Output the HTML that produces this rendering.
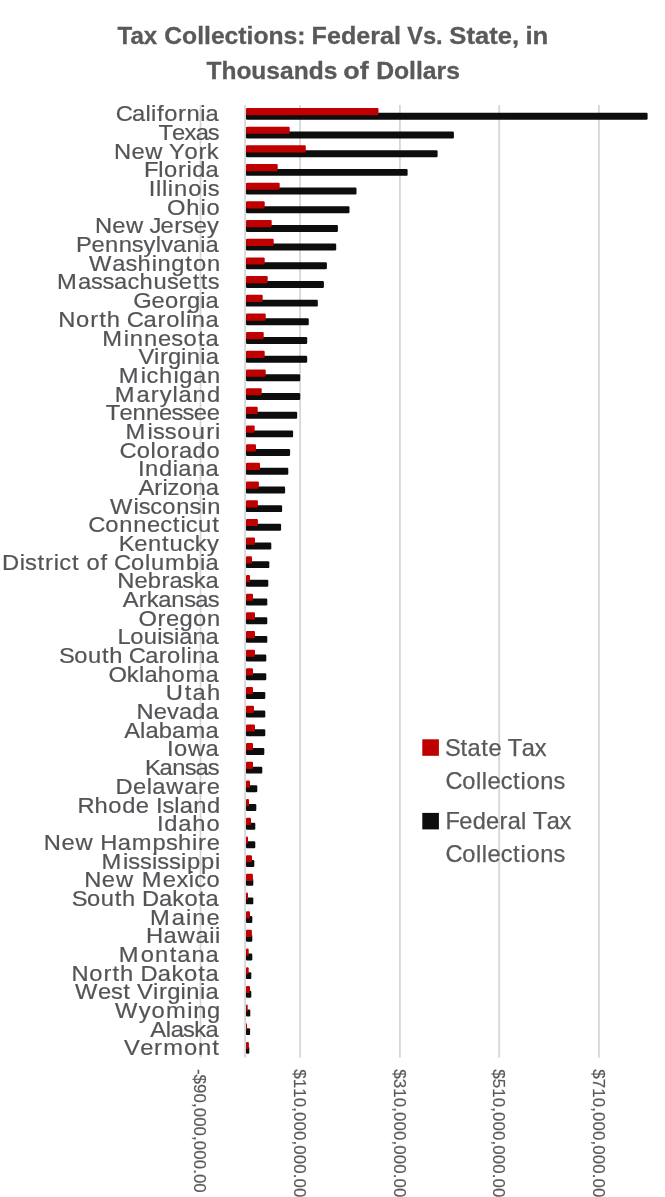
<!DOCTYPE html>
<html lang="en"><head><meta charset="utf-8"><title>Tax Collections: Federal Vs. State</title>
<style>html,body{margin:0;padding:0;background:#fff}body{width:665px;height:1197px;overflow:hidden;position:relative}</style></head>
<body>
<svg width="665" height="1197" viewBox="0 0 665 1197" style="display:block;position:absolute;left:0;top:0">
<rect width="665" height="1197" fill="#fff"/>
<rect x="199.60" y="105.0" width="1.8" height="952.6" fill="#d6d6d6"/>
<rect x="299.20" y="105.0" width="1.8" height="952.6" fill="#d6d6d6"/>
<rect x="399.00" y="105.0" width="1.8" height="952.6" fill="#d6d6d6"/>
<rect x="498.30" y="105.0" width="1.8" height="952.6" fill="#d6d6d6"/>
<rect x="598.00" y="105.0" width="1.8" height="952.6" fill="#d6d6d6"/>
<rect x="244.2" y="105.0" width="1.8" height="952.6" fill="#d5d8da"/>
<g>
<rect x="246.0" y="112.85" width="401.6" height="6.95" rx="1.2" fill="#0d0d0d"/>
<rect x="246.0" y="107.95" width="132.5" height="7.2" rx="1.1" fill="#c00000"/>
<rect x="246.0" y="131.53" width="207.9" height="6.95" rx="1.2" fill="#0d0d0d"/>
<rect x="246.0" y="126.63" width="43.7" height="7.2" rx="1.1" fill="#c00000"/>
<rect x="246.0" y="150.21" width="191.6" height="6.95" rx="1.2" fill="#0d0d0d"/>
<rect x="246.0" y="145.31" width="59.8" height="7.2" rx="1.1" fill="#c00000"/>
<rect x="246.0" y="168.89" width="161.6" height="6.95" rx="1.2" fill="#0d0d0d"/>
<rect x="246.0" y="163.99" width="31.7" height="7.2" rx="1.1" fill="#c00000"/>
<rect x="246.0" y="187.57" width="110.5" height="6.95" rx="1.2" fill="#0d0d0d"/>
<rect x="246.0" y="182.67" width="33.7" height="7.2" rx="1.1" fill="#c00000"/>
<rect x="246.0" y="206.25" width="103.5" height="6.95" rx="1.2" fill="#0d0d0d"/>
<rect x="246.0" y="201.35" width="18.7" height="7.2" rx="1.1" fill="#c00000"/>
<rect x="246.0" y="224.93" width="91.9" height="6.95" rx="1.2" fill="#0d0d0d"/>
<rect x="246.0" y="220.03" width="25.7" height="7.2" rx="1.1" fill="#c00000"/>
<rect x="246.0" y="243.61" width="90.2" height="6.95" rx="1.2" fill="#0d0d0d"/>
<rect x="246.0" y="238.71" width="27.7" height="7.2" rx="1.1" fill="#c00000"/>
<rect x="246.0" y="262.29" width="80.9" height="6.95" rx="1.2" fill="#0d0d0d"/>
<rect x="246.0" y="257.39" width="18.7" height="7.2" rx="1.1" fill="#c00000"/>
<rect x="246.0" y="280.97" width="77.9" height="6.95" rx="1.2" fill="#0d0d0d"/>
<rect x="246.0" y="276.07" width="21.7" height="7.2" rx="1.1" fill="#c00000"/>
<rect x="246.0" y="299.65" width="71.8" height="6.95" rx="1.2" fill="#0d0d0d"/>
<rect x="246.0" y="294.75" width="16.7" height="7.2" rx="1.1" fill="#c00000"/>
<rect x="246.0" y="318.33" width="62.8" height="6.95" rx="1.2" fill="#0d0d0d"/>
<rect x="246.0" y="313.43" width="19.7" height="7.2" rx="1.1" fill="#c00000"/>
<rect x="246.0" y="337.01" width="61.2" height="6.95" rx="1.2" fill="#0d0d0d"/>
<rect x="246.0" y="332.11" width="17.7" height="7.2" rx="1.1" fill="#c00000"/>
<rect x="246.0" y="355.69" width="61.2" height="6.95" rx="1.2" fill="#0d0d0d"/>
<rect x="246.0" y="350.79" width="18.7" height="7.2" rx="1.1" fill="#c00000"/>
<rect x="246.0" y="374.37" width="54.2" height="6.95" rx="1.2" fill="#0d0d0d"/>
<rect x="246.0" y="369.47" width="19.7" height="7.2" rx="1.1" fill="#c00000"/>
<rect x="246.0" y="393.05" width="54.2" height="6.95" rx="1.2" fill="#0d0d0d"/>
<rect x="246.0" y="388.15" width="15.7" height="7.2" rx="1.1" fill="#c00000"/>
<rect x="246.0" y="411.73" width="51.2" height="6.95" rx="1.2" fill="#0d0d0d"/>
<rect x="246.0" y="406.83" width="11.7" height="7.2" rx="1.1" fill="#c00000"/>
<rect x="246.0" y="430.41" width="47.1" height="6.95" rx="1.2" fill="#0d0d0d"/>
<rect x="246.0" y="425.51" width="8.7" height="7.2" rx="1.1" fill="#c00000"/>
<rect x="246.0" y="449.09" width="44.1" height="6.95" rx="1.2" fill="#0d0d0d"/>
<rect x="246.0" y="444.19" width="10.0" height="7.2" rx="1.1" fill="#c00000"/>
<rect x="246.0" y="467.77" width="42.3" height="6.95" rx="1.2" fill="#0d0d0d"/>
<rect x="246.0" y="462.87" width="14.0" height="7.2" rx="1.1" fill="#c00000"/>
<rect x="246.0" y="486.45" width="39.1" height="6.95" rx="1.2" fill="#0d0d0d"/>
<rect x="246.0" y="481.55" width="12.9" height="7.2" rx="1.1" fill="#c00000"/>
<rect x="246.0" y="505.13" width="36.1" height="6.95" rx="1.2" fill="#0d0d0d"/>
<rect x="246.0" y="500.23" width="11.9" height="7.2" rx="1.1" fill="#c00000"/>
<rect x="246.0" y="523.81" width="35.1" height="6.95" rx="1.2" fill="#0d0d0d"/>
<rect x="246.0" y="518.91" width="11.9" height="7.2" rx="1.1" fill="#c00000"/>
<rect x="246.0" y="542.49" width="25.3" height="6.95" rx="1.2" fill="#0d0d0d"/>
<rect x="246.0" y="537.59" width="9.0" height="7.2" rx="1.1" fill="#c00000"/>
<rect x="246.0" y="561.17" width="23.3" height="6.95" rx="1.2" fill="#0d0d0d"/>
<rect x="246.0" y="556.27" width="6.0" height="7.2" rx="1.1" fill="#c00000"/>
<rect x="246.0" y="579.85" width="22.3" height="6.95" rx="1.2" fill="#0d0d0d"/>
<rect x="246.0" y="574.95" width="4.0" height="7.2" rx="1.1" fill="#c00000"/>
<rect x="246.0" y="598.53" width="21.3" height="6.95" rx="1.2" fill="#0d0d0d"/>
<rect x="246.0" y="593.63" width="7.0" height="7.2" rx="1.1" fill="#c00000"/>
<rect x="246.0" y="617.21" width="21.3" height="6.95" rx="1.2" fill="#0d0d0d"/>
<rect x="246.0" y="612.31" width="9.0" height="7.2" rx="1.1" fill="#c00000"/>
<rect x="246.0" y="635.89" width="21.3" height="6.95" rx="1.2" fill="#0d0d0d"/>
<rect x="246.0" y="630.99" width="9.0" height="7.2" rx="1.1" fill="#c00000"/>
<rect x="246.0" y="654.57" width="20.3" height="6.95" rx="1.2" fill="#0d0d0d"/>
<rect x="246.0" y="649.67" width="9.0" height="7.2" rx="1.1" fill="#c00000"/>
<rect x="246.0" y="673.25" width="20.3" height="6.95" rx="1.2" fill="#0d0d0d"/>
<rect x="246.0" y="668.35" width="7.0" height="7.2" rx="1.1" fill="#c00000"/>
<rect x="246.0" y="691.93" width="19.3" height="6.95" rx="1.2" fill="#0d0d0d"/>
<rect x="246.0" y="687.03" width="7.0" height="7.2" rx="1.1" fill="#c00000"/>
<rect x="246.0" y="710.61" width="19.3" height="6.95" rx="1.2" fill="#0d0d0d"/>
<rect x="246.0" y="705.71" width="8.0" height="7.2" rx="1.1" fill="#c00000"/>
<rect x="246.0" y="729.29" width="19.3" height="6.95" rx="1.2" fill="#0d0d0d"/>
<rect x="246.0" y="724.39" width="9.0" height="7.2" rx="1.1" fill="#c00000"/>
<rect x="246.0" y="747.97" width="18.3" height="6.95" rx="1.2" fill="#0d0d0d"/>
<rect x="246.0" y="743.07" width="7.0" height="7.2" rx="1.1" fill="#c00000"/>
<rect x="246.0" y="766.65" width="16.3" height="6.95" rx="1.2" fill="#0d0d0d"/>
<rect x="246.0" y="761.75" width="7.0" height="7.2" rx="1.1" fill="#c00000"/>
<rect x="246.0" y="785.33" width="11.3" height="6.95" rx="1.2" fill="#0d0d0d"/>
<rect x="246.0" y="780.43" width="4.0" height="7.2" rx="1.1" fill="#c00000"/>
<rect x="246.0" y="804.01" width="10.3" height="6.95" rx="1.2" fill="#0d0d0d"/>
<rect x="246.0" y="799.11" width="3.0" height="7.2" rx="1.1" fill="#c00000"/>
<rect x="246.0" y="822.69" width="9.3" height="6.95" rx="1.2" fill="#0d0d0d"/>
<rect x="246.0" y="817.79" width="5.0" height="7.2" rx="1.1" fill="#c00000"/>
<rect x="246.0" y="841.37" width="9.3" height="6.95" rx="1.2" fill="#0d0d0d"/>
<rect x="246.0" y="836.47" width="2.0" height="7.2" rx="1.1" fill="#c00000"/>
<rect x="246.0" y="860.05" width="8.3" height="6.95" rx="1.2" fill="#0d0d0d"/>
<rect x="246.0" y="855.15" width="6.0" height="7.2" rx="1.1" fill="#c00000"/>
<rect x="246.0" y="878.73" width="7.3" height="6.95" rx="1.2" fill="#0d0d0d"/>
<rect x="246.0" y="873.83" width="6.9" height="7.2" rx="1.1" fill="#c00000"/>
<rect x="246.0" y="897.41" width="7.3" height="6.95" rx="1.2" fill="#0d0d0d"/>
<rect x="246.0" y="892.51" width="2.0" height="7.2" rx="1.1" fill="#c00000"/>
<rect x="246.0" y="916.09" width="6.3" height="6.95" rx="1.2" fill="#0d0d0d"/>
<rect x="246.0" y="911.19" width="4.0" height="7.2" rx="1.1" fill="#c00000"/>
<rect x="246.0" y="934.77" width="6.3" height="6.95" rx="1.2" fill="#0d0d0d"/>
<rect x="246.0" y="929.87" width="5.9" height="7.2" rx="1.1" fill="#c00000"/>
<rect x="246.0" y="953.45" width="6.3" height="6.95" rx="1.2" fill="#0d0d0d"/>
<rect x="246.0" y="948.55" width="2.7" height="7.2" rx="1.1" fill="#c00000"/>
<rect x="246.0" y="972.13" width="5.3" height="6.95" rx="1.2" fill="#0d0d0d"/>
<rect x="246.0" y="967.23" width="2.7" height="7.2" rx="1.1" fill="#c00000"/>
<rect x="246.0" y="990.81" width="5.3" height="6.95" rx="1.2" fill="#0d0d0d"/>
<rect x="246.0" y="985.91" width="4.0" height="7.2" rx="1.1" fill="#c00000"/>
<rect x="246.0" y="1009.49" width="4.3" height="6.95" rx="1.2" fill="#0d0d0d"/>
<rect x="246.0" y="1004.59" width="1.7" height="7.2" rx="1.1" fill="#c00000"/>
<rect x="246.0" y="1028.17" width="4.1" height="6.95" rx="1.2" fill="#0d0d0d"/>
<rect x="246.0" y="1023.27" width="1.0" height="7.2" rx="1.1" fill="#c00000"/>
<rect x="246.0" y="1046.85" width="3.3" height="6.95" rx="1.2" fill="#0d0d0d"/>
<rect x="246.0" y="1041.95" width="2.9" height="7.2" rx="1.1" fill="#c00000"/>
</g>
<g font-family="'Liberation Sans', sans-serif" font-size="22.5" fill="#545458" stroke="#545458" stroke-width="0.2">
<text transform="translate(115.69,121.35) scale(1.055,1)" x="0.00 15.52 28.16 33.57 39.16 46.02 59.09 67.15 80.08 85.22" y="0">California</text>
<text transform="translate(158.47,140.03) scale(1.055,1)" x="0.00 12.80 24.70 35.24 46.76" y="0">Texas</text>
<text transform="translate(114.05,158.71) scale(1.055,1)" x="0.00 16.46 29.58 46.49 52.14 66.84 80.03 87.99" y="0">New York</text>
<text transform="translate(144.05,177.39) scale(1.055,1)" x="0.00 13.51 18.97 32.10 40.18 45.63 58.33" y="0">Florida</text>
<text transform="translate(148.81,196.07) scale(1.055,1)" x="0.00 6.77 12.42 18.06 23.77 37.28 50.73 55.88" y="0">Illinois</text>
<text transform="translate(166.88,214.75) scale(1.055,1)" x="0.00 18.36 31.88 37.57" y="0">Ohio</text>
<text transform="translate(95.05,233.43) scale(1.055,1)" x="0.00 16.35 29.35 46.18 51.62 62.11 75.04 82.51 93.46 106.08" y="0">New Jersey</text>
<text transform="translate(76.05,252.11) scale(1.055,1)" x="0.00 14.64 27.44 40.41 52.86 63.89 75.49 80.73 91.98 104.66 117.69 122.78" y="0">Pennsylvania</text>
<text transform="translate(88.90,270.79) scale(1.055,1)" x="0.00 22.16 34.66 46.17 59.48 65.10 78.09 91.42 98.70 112.06" y="0">Washington</text>
<text transform="translate(57.05,289.47) scale(1.055,1)" x="0.00 19.83 32.20 43.03 54.10 66.68 78.25 91.46 104.13 115.32 128.72 136.25 142.87" y="0">Massachusetts</text>
<text transform="translate(133.31,308.15) scale(1.055,1)" x="0.00 17.21 29.99 43.11 50.78 63.42 68.51" y="0">Georgia</text>
<text transform="translate(58.15,326.83) scale(1.055,1)" x="0.00 16.94 30.35 38.95 46.18 59.24 65.05 80.97 94.07 102.36 115.62 121.17 126.76 139.75" y="0">North Carolina</text>
<text transform="translate(102.25,345.51) scale(1.055,1)" x="0.00 20.35 26.05 39.50 52.78 65.50 77.12 90.88 97.94" y="0">Minnesota</text>
<text transform="translate(138.40,364.19) scale(1.055,1)" x="0.00 14.90 20.39 28.03 40.47 45.85 58.63 63.73" y="0">Virginia</text>
<text transform="translate(118.85,382.87) scale(1.055,1)" x="0.00 20.75 26.17 38.18 51.82 57.24 70.26 83.65" y="0">Michigan</text>
<text transform="translate(114.85,401.55) scale(1.055,1)" x="0.00 20.57 34.10 42.52 54.71 60.24 73.68 87.43" y="0">Maryland</text>
<text transform="translate(105.67,420.23) scale(1.055,1)" x="0.00 13.10 25.54 38.14 50.57 62.49 72.81 83.47 95.72" y="0">Tennessee</text>
<text transform="translate(125.55,438.91) scale(1.055,1)" x="0.00 20.71 25.93 37.16 48.97 62.66 76.43 84.90" y="0">Missouri</text>
<text transform="translate(119.59,457.59) scale(1.055,1)" x="0.00 16.17 29.42 34.96 48.34 56.27 69.20 82.44" y="0">Colorado</text>
<text transform="translate(138.01,476.27) scale(1.055,1)" x="0.00 6.64 19.83 33.01 38.25 51.15 64.04" y="0">Indiana</text>
<text transform="translate(138.45,494.95) scale(1.055,1)" x="0.00 14.98 22.85 27.66 38.61 51.29 63.68" y="0">Arizona</text>
<text transform="translate(110.10,513.63) scale(1.055,1)" x="0.00 22.11 27.05 38.00 49.50 62.62 75.19 86.49 91.97" y="0">Wisconsin</text>
<text transform="translate(88.29,532.31) scale(1.055,1)" x="0.00 16.13 29.34 42.53 55.55 68.23 80.15 87.30 92.50 104.08 117.61" y="0">Connecticut</text>
<text transform="translate(118.85,550.99) scale(1.055,1)" x="0.00 14.72 27.58 40.98 48.04 60.75 72.04 83.52" y="0">Kentucky</text>
<text transform="translate(2.05,569.67) scale(1.055,1)" x="0.00 16.68 21.73 33.50 40.83 49.07 54.32 66.28 73.29 79.99 93.40 100.22 106.04 122.26 135.50 141.09 154.58 174.40 187.63 192.93" y="0">District of Columbia</text>
<text transform="translate(117.25,588.35) scale(1.055,1)" x="0.00 16.24 28.92 41.93 49.60 61.64 72.57 83.73" y="0">Nebraska</text>
<text transform="translate(122.85,607.03) scale(1.055,1)" x="0.00 15.00 22.69 33.65 45.99 58.11 68.68 80.51" y="0">Arkansas</text>
<text transform="translate(138.38,625.71) scale(1.055,1)" x="0.00 18.15 26.21 38.94 51.87 65.15" y="0">Oregon</text>
<text transform="translate(117.55,644.39) scale(1.055,1)" x="0.00 12.12 24.89 37.70 42.48 53.51 58.51 70.98 83.46" y="0">Louisiana</text>
<text transform="translate(59.02,663.07) scale(1.055,1)" x="0.00 14.43 27.39 40.71 47.73 60.50 66.09 81.62 94.42 102.47 115.45 120.87 126.27 138.93" y="0">South Carolina</text>
<text transform="translate(108.38,681.75) scale(1.055,1)" x="0.00 17.48 29.05 34.19 46.88 59.87 73.03 92.15" y="0">Oklahoma</text>
<text transform="translate(165.77,700.43) scale(1.055,1)" x="0.00 18.12 25.44 39.11" y="0">Utah</text>
<text transform="translate(136.55,719.11) scale(1.055,1)" x="0.00 16.34 28.95 40.16 52.80 65.43" y="0">Nevada</text>
<text transform="translate(124.15,737.79) scale(1.055,1)" x="0.00 15.12 20.21 32.82 45.42 58.19 77.20" y="0">Alabama</text>
<text transform="translate(167.11,756.47) scale(1.055,1)" x="0.00 6.56 19.83 36.50" y="0">Iowa</text>
<text transform="translate(144.95,775.15) scale(1.055,1)" x="0.00 13.83 25.88 37.72 48.01 59.56" y="0">Kansas</text>
<text transform="translate(115.55,793.83) scale(1.055,1)" x="0.00 16.54 29.62 34.87 48.11 65.17 78.26 86.33" y="0">Delaware</text>
<text transform="translate(77.55,812.51) scale(1.055,1)" x="0.00 16.08 29.20 42.32 55.25 68.01 74.41 80.43 91.74 96.89 109.70 122.81" y="0">Rhode Island</text>
<text transform="translate(157.01,831.19) scale(1.055,1)" x="0.00 6.83 20.10 33.36 46.94" y="0">Idaho</text>
<text transform="translate(43.75,849.87) scale(1.055,1)" x="0.00 16.76 30.13 47.32 53.67 70.16 83.33 103.18 115.91 127.35 140.62 146.31 154.39" y="0">New Hampshire</text>
<text transform="translate(101.55,868.55) scale(1.055,1)" x="0.00 20.36 25.39 36.34 47.85 52.89 63.84 75.35 80.93 94.29 107.65" y="0">Mississippi</text>
<text transform="translate(84.15,887.23) scale(1.055,1)" x="0.00 16.76 30.16 47.32 54.58 74.60 87.44 99.12 104.38 116.05" y="0">New Mexico</text>
<text transform="translate(71.72,905.91) scale(1.055,1)" x="0.00 14.44 27.42 40.73 47.76 60.54 66.66 82.72 95.26 106.83 120.16 126.89" y="0">South Dakota</text>
<text transform="translate(149.95,924.59) scale(1.055,1)" x="0.00 20.70 34.15 40.02 53.68" y="0">Maine</text>
<text transform="translate(145.95,943.27) scale(1.055,1)" x="0.00 16.55 29.85 46.98 59.99 65.57" y="0">Hawaii</text>
<text transform="translate(118.85,961.95) scale(1.055,1)" x="0.00 20.71 34.38 48.31 55.48 68.84 82.19" y="0">Montana</text>
<text transform="translate(71.45,980.63) scale(1.055,1)" x="0.00 16.92 30.29 38.88 46.12 59.15 65.50 81.92 94.75 106.61 120.20 127.14" y="0">North Dakota</text>
<text transform="translate(75.00,999.31) scale(1.055,1)" x="0.00 21.79 34.14 45.72 52.61 58.83 74.01 79.61 87.40 100.08 105.57 118.60 123.79" y="0">West Virginia</text>
<text transform="translate(115.10,1017.99) scale(1.055,1)" x="0.00 22.52 34.56 48.29 68.37 74.06 87.20" y="0">Wyoming</text>
<text transform="translate(150.15,1036.67) scale(1.055,1)" x="0.00 14.69 19.53 31.19 41.78 52.58" y="0">Alaska</text>
<text transform="translate(124.10,1055.35) scale(1.055,1)" x="0.00 15.29 28.47 37.02 56.82 70.12 83.68" y="0">Vermont</text>
</g>
<g font-family="'Liberation Sans', sans-serif" font-size="16.9" fill="#595959" stroke="#595959" stroke-width="0.2">
<text transform="translate(194.40,1069.3) rotate(90)" x="-0.19 5.28 14.75 24.21 33.64 38.37 47.84 57.30 66.73 71.46 80.93 90.39 99.84 104.58 114.04" y="0">-$90,000,000.00</text>
<text transform="translate(294.00,1069.3) rotate(90)" x="0.05 9.55 19.04 28.54 38.00 42.75 52.25 61.74 71.20 75.95 85.45 94.95 104.42 109.18 118.68" y="0">$110,000,000.00</text>
<text transform="translate(393.80,1069.3) rotate(90)" x="0.05 9.55 19.04 28.54 38.00 42.75 52.25 61.74 71.20 75.95 85.45 94.95 104.42 109.18 118.68" y="0">$310,000,000.00</text>
<text transform="translate(493.10,1069.3) rotate(90)" x="0.05 9.55 19.04 28.54 38.00 42.75 52.25 61.74 71.20 75.95 85.45 94.95 104.42 109.18 118.68" y="0">$510,000,000.00</text>
<text transform="translate(592.80,1069.3) rotate(90)" x="0.05 9.55 19.04 28.54 38.00 42.75 52.25 61.74 71.20 75.95 85.45 94.95 104.42 109.18 118.68" y="0">$710,000,000.00</text>
</g>
<rect x="422.3" y="739.3" width="16.6" height="16.5" fill="#c00000"/>
<rect x="422.3" y="812.9" width="16.6" height="16.5" fill="#0d0d0d"/>
<g font-family="'Liberation Sans', sans-serif" font-size="23.6" fill="#595959" stroke="#595959" stroke-width="0.25">
<text x="445.12 460.56 467.61 481.23 488.41 501.58 507.79 521.74 534.70" y="755.8">State Tax</text>
<text x="445.44 462.26 476.00 481.77 487.43 500.67 513.09 520.56 526.41 540.22 553.43" y="789.1">Collections</text>
<text x="445.45 459.35 472.72 486.10 499.61 507.74 520.99 526.47 532.68 546.64 559.61" y="828.9">Federal Tax</text>
<text x="445.44 462.26 476.00 481.77 487.43 500.67 513.09 520.56 526.41 540.22 553.43" y="862.0">Collections</text>
</g>
<g font-family="'Liberation Sans', sans-serif" font-size="24.3" font-weight="bold" fill="#595959" stroke="#595959" stroke-width="0.3">
<text x="117.54" y="43.6" textLength="39.73" lengthAdjust="spacingAndGlyphs">Tax</text>
<text x="164.29" y="43.6" textLength="141.19" lengthAdjust="spacingAndGlyphs">Collections:</text>
<text x="311.62" y="43.6" textLength="89.26" lengthAdjust="spacingAndGlyphs">Federal</text>
<text x="407.14" y="43.6" textLength="35.49" lengthAdjust="spacingAndGlyphs">Vs.</text>
<text x="449.36" y="43.6" textLength="69.75" lengthAdjust="spacingAndGlyphs">State,</text>
<text x="525.40" y="43.6" textLength="22.90" lengthAdjust="spacingAndGlyphs">in</text>
<text x="206.42" y="78.6" textLength="130.88" lengthAdjust="spacingAndGlyphs">Thousands</text>
<text x="343.35" y="78.6" textLength="25.40" lengthAdjust="spacingAndGlyphs">of</text>
<text x="376.15" y="78.6" textLength="83.77" lengthAdjust="spacingAndGlyphs">Dollars</text>
</g>
</svg>
</body></html>
